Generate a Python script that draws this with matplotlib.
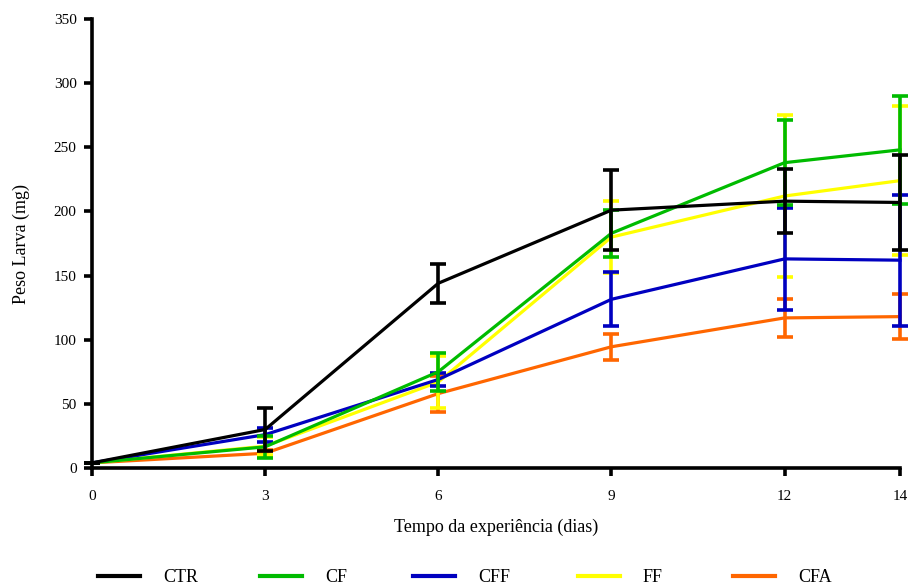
import matplotlib
matplotlib.use("Agg")
import matplotlib.pyplot as plt
from matplotlib.lines import Line2D

plt.rcParams['font.family'] = ['Liberation Serif', 'DejaVu Serif']

days = [0, 3, 6, 9, 12, 14]
groups = ["CTR", "CF", "CFF", "FF", "CFA"]
colors = ["#000000", "#00BB00", "#0000C0", "#FFFF00", "#FF6600"]

ctr_mean = [4, 30, 144, 201, 208, 207]
ctr_err = [0, 17, 15, 31, 25, 37]
cf_mean = [4, 16.5, 75, 183, 238, 248]
cf_err = [0, 8.5, 15, 18.5, 33, 42]
cff_mean = [4, 26, 69, 131.5, 163, 162]
cff_err = [0, 5.5, 5, 21, 40, 51]
ff_mean = [4, 17, 67, 180, 212, 224]
ff_err = [0, 7, 20, 28, 63, 58]
cfa_mean = [4, 11.5, 58, 94.5, 117, 118]
cfa_err = [0, 2.5, 14, 10, 15, 17.5]

means = [ctr_mean, cf_mean, cff_mean, ff_mean, cfa_mean]
errs = [ctr_err, cf_err, cff_err, ff_err, cfa_err]

W, H = 911, 586
fig = plt.figure(figsize=(W / 100, H / 100), dpi=100)
L, R, T, B = 92, 900, 19, 468
ax = fig.add_axes([L / W, 1 - B / H, (R - L) / W, (B - T) / H])

for i in reversed(range(len(groups))):
    ax.errorbar(days, means[i], yerr=errs[i], color=colors[i], lw=2.3,
                elinewidth=2.6, capsize=6, capthick=2.6, clip_on=False,
                zorder=3 + (len(groups) - i))

ax.set_xlim(0, 14)
ax.set_ylim(0, 350)
ax.set_xticks(days)
ax.set_yticks(range(0, 351, 50))
for s in ["top", "right"]:
    ax.spines[s].set_visible(False)
for s in ["left", "bottom"]:
    ax.spines[s].set_linewidth(2.6)
ax.tick_params(axis='both', width=2.6, length=6, labelsize=11, direction='out')
ax.tick_params(axis='x', pad=10)
ax.tick_params(axis='y', pad=5)

ax.set_xlabel("Tempo da experiência (dias)", fontsize=13)
ax.set_ylabel("Peso Larva (mg)", fontsize=13)
ax.xaxis.set_label_coords(0.5, -(519 - B) / (B - T))
ax.yaxis.set_label_coords(-(L - 30) / (R - L), 0.5)

handle_x = [98, 260, 413, 578, 733]
for i, g in enumerate(groups):
    h = Line2D([], [], color=colors[i], lw=3)
    fig.legend([h], [g], loc='center left',
               bbox_to_anchor=(handle_x[i] / W, 1 - 578 / H),
               frameon=False, fontsize=13, borderpad=0, borderaxespad=0,
               handlelength=2.3, handletextpad=1.3)

fig.savefig("out.png", dpi=100)
